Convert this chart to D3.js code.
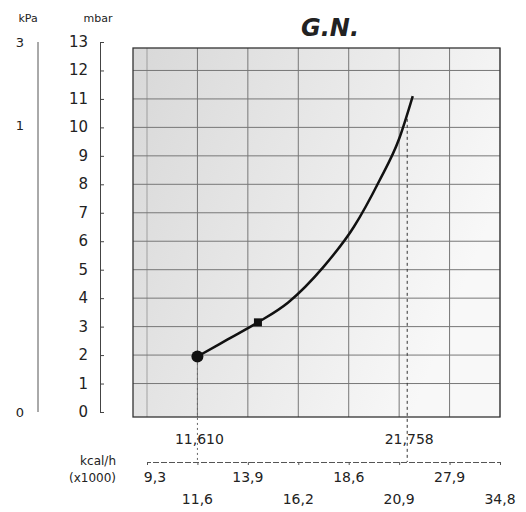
<!DOCTYPE html><html><head><meta charset="utf-8"><script src="https://cdn.jsdelivr.net/npm/d3@7"></script>
<style>body{margin:0;background:#fff}text{font-family:"DejaVu Sans",sans-serif;fill:#222}</style></head><body><svg id="c" width="526" height="512"></svg><script>
const mbarTicks=[0,1,2,3,4,5,6,7,8,9,10,11,12,13];
const kpaTicks=[{v:0,p:0},{v:1,p:10.1},{v:3,p:13}];
const capRow1=["9,3","13,9","18,6","27,9"];
const capRow2=["11,6","16,2","20,9","34,8"];
const curveX=[1.0,1.6,2.2,2.8,3.5,4.1,4.6,5.0,5.27];
const curveY=[1.95,2.55,3.15,3.85,5.1,6.5,8.1,9.6,11.1];
const markers=[{x:1.0,y:1.95,t:"c"},{x:2.2,y:3.15,t:"s"}];
const svg=d3.select("#c");
const x=d3.scaleLinear().domain([0,7]).range([147,500]);
const y=d3.scaleLinear().domain([0,13]).range([412,42]);
const L=133,R=500,T=48,B=417;
const defs=svg.append("defs");
const g=defs.append("linearGradient").attr("id","bg").attr("x1",0).attr("x2",1).attr("y1",0).attr("y2",0.4);
g.append("stop").attr("offset","0").attr("stop-color","#d8d8d8");
g.append("stop").attr("offset","0.6").attr("stop-color","#ebebeb");
g.append("stop").attr("offset","1").attr("stop-color","#f8f8f8");
svg.append("rect").attr("x",L).attr("y",T).attr("width",R-L).attr("height",B-T).attr("fill","url(#bg)");
svg.selectAll(".hg").data(d3.range(1,13)).join("line").attr("x1",L).attr("x2",R).attr("y1",d=>y(d)).attr("y2",d=>y(d)).attr("stroke","#777").attr("stroke-width",1);
svg.selectAll(".vg").data(d3.range(0,8)).join("line").attr("x1",d=>x(d)).attr("x2",d=>x(d)).attr("y1",T).attr("y2",B).attr("stroke","#777").attr("stroke-width",d=>d>0&&d<7?1:0.6);
svg.append("rect").attr("x",L).attr("y",T).attr("width",R-L).attr("height",B-T).attr("fill","none").attr("stroke","#333").attr("stroke-width",1.3);
svg.append("line").attr("x1",x(5.16)).attr("x2",x(5.16)).attr("y1",y(10.3)).attr("y2",462).attr("stroke","#333").attr("stroke-dasharray","3,3");
svg.append("line").attr("x1",x(1)).attr("x2",x(1)).attr("y1",y(1.9)).attr("y2",462).attr("stroke","#666").attr("stroke-dasharray","2,3");
const ma=svg.append("g").attr("transform","translate(100,0)").call(d3.axisRight(y).tickValues(mbarTicks).tickSize(4).tickFormat(""));
ma.select(".domain").attr("stroke","#444");ma.selectAll("line").attr("stroke","#444");
svg.selectAll(".ml").data(mbarTicks).join("text").attr("x",88).attr("y",d=>y(d)+5).attr("text-anchor","end").attr("font-size",15).text(d=>d);
svg.append("text").attr("x",98).attr("y",22).attr("text-anchor","middle").attr("font-size",11).text("mbar");
svg.append("line").attr("x1",38).attr("x2",38).attr("y1",y(13)).attr("y2",y(0)).attr("stroke","#555");
svg.selectAll(".kl").data(kpaTicks).join("text").attr("x",24).attr("y",d=>y(d.p)+5).attr("text-anchor","end").attr("font-size",13).text(d=>d.v);
svg.append("text").attr("x",28).attr("y",22).attr("text-anchor","middle").attr("font-size",11).text("kPa");
const xa=svg.append("g").attr("transform","translate(0,462)").call(d3.axisBottom(x).tickValues(d3.range(0,8)).tickSize(3).tickFormat(""));
xa.select(".domain").attr("stroke","#555").attr("stroke-dasharray","6,2");xa.selectAll("line").attr("stroke","#555");
svg.selectAll(".r1").data(capRow1).join("text").attr("x",(d,i)=>x(i*2)+(i==0?8:0)).attr("y",482).attr("text-anchor","middle").attr("font-size",14).text(d=>d);
svg.selectAll(".r2").data(capRow2).join("text").attr("x",(d,i)=>x(i*2+1)).attr("y",504).attr("text-anchor","middle").attr("font-size",14).text(d=>d);
svg.append("text").attr("x",116).attr("y",465).attr("text-anchor","end").attr("font-size",12).text("kcal/h");
svg.append("text").attr("x",116).attr("y",482).attr("text-anchor","end").attr("font-size",12).text("(x1000)");
svg.append("text").attr("x",x(1)+2).attr("y",444).attr("text-anchor","middle").attr("font-size",14).text("11,610");
svg.append("text").attr("x",x(5.16)+2).attr("y",444).attr("text-anchor","middle").attr("font-size",14).text("21,758");
const line=d3.line().x(d=>x(d[0])).y(d=>y(d[1])).curve(d3.curveMonotoneX);
svg.append("path").attr("d",line(curveX.map((v,i)=>[v,curveY[i]]))).attr("fill","none").attr("stroke","#111").attr("stroke-width",2.5);
markers.forEach(m=>{if(m.t==="c")svg.append("circle").attr("cx",x(m.x)).attr("cy",y(m.y)).attr("r",6).attr("fill","#111");
else svg.append("rect").attr("x",x(m.x)-4).attr("y",y(m.y)-4).attr("width",8).attr("height",8).attr("fill","#111");});
svg.append("text").attr("x",330).attr("y",36).attr("text-anchor","middle").attr("font-size",24).attr("font-weight","bold").attr("font-style","italic").text("G.N.");
</script></body></html>
